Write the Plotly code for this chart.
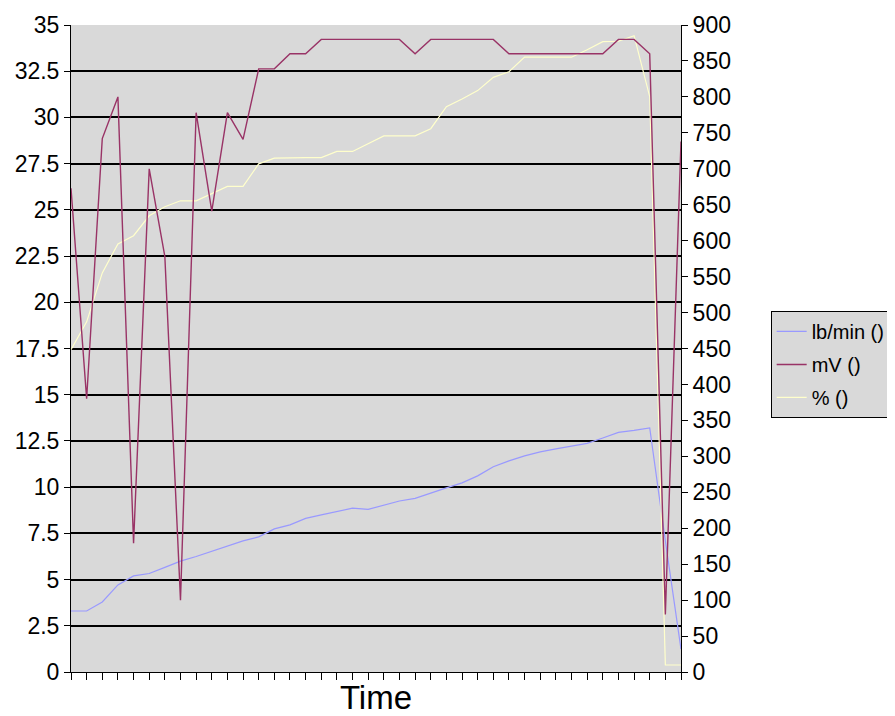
import plotly.graph_objects as go

# Category index (Time) – no tick labels shown on the chart
time_idx = list(range(40))

lb_min = [3.30, 3.30, 3.79, 4.71, 5.20, 5.33, 5.66, 6.00, 6.25, 6.52,
          6.79, 7.09, 7.31, 7.74, 7.96, 8.31, 8.50, 8.68, 8.86, 8.80,
          9.04, 9.25, 9.39, 9.69, 9.96, 10.23, 10.61, 11.10, 11.42, 11.69,
          11.91, 12.07, 12.20, 12.37, 12.66, 12.96, 13.07, 13.20, 7.09, 1.24]

mv = [673, 380, 742, 800, 179, 700, 578, 100, 778, 641,
      778, 741, 839, 839, 860, 860, 880, 880, 880, 880,
      880, 880, 860, 880, 880, 880, 880, 880, 860, 860,
      860, 860, 860, 860, 860, 880, 880, 860, 80, 738]

pct = [17.43, 18.94, 21.59, 23.16, 23.60, 24.68, 25.17, 25.49, 25.49, 25.87,
       26.27, 26.27, 27.49, 27.80, 27.83, 27.83, 27.83, 28.16, 28.16, 28.58,
       29.00, 29.00, 29.00, 29.39, 30.58, 31.00, 31.45, 32.17, 32.47, 33.26,
       33.26, 33.26, 33.26, 33.66, 34.10, 34.12, 34.42, 31.12, 0.38, 0.38]

left_ticks = [i * 2.5 for i in range(15)]
left_labels = ["0", "2.5", "5", "7.5", "10", "12.5", "15", "17.5", "20",
               "22.5", "25", "27.5", "30", "32.5", "35"]
right_ticks = list(range(0, 901, 50))

FONT = "Arial, Liberation Sans, sans-serif"

fig = go.Figure()
fig.add_trace(go.Scatter(x=time_idx, y=lb_min, name="lb/min ()", mode="lines",
                         line=dict(color="#9999FF", width=1.2), yaxis="y",
                         legendgroup="a", legendrank=1))
fig.add_trace(go.Scatter(x=time_idx, y=pct, name="% ()", mode="lines",
                         line=dict(color="#FFFFCC", width=1.2), yaxis="y",
                         legendgroup="c", legendrank=3))
fig.add_trace(go.Scatter(x=time_idx, y=mv, name="mV ()", mode="lines",
                         line=dict(color="#993366", width=1.4), yaxis="y2",
                         legendgroup="b", legendrank=2))

fig.update_layout(
    width=895, height=716,
    margin=dict(l=63, r=219, t=17, b=52),
    paper_bgcolor="white",
    plot_bgcolor="#D9D9D9",
    font=dict(family=FONT, color="black"),
    showlegend=True,
    legend=dict(x=1.147, y=0.558, xanchor="left", yanchor="top",
                bgcolor="#D9D9D9", bordercolor="black", borderwidth=1,
                font=dict(size=20, family=FONT), tracegroupgap=4,
                itemwidth=30),
    xaxis=dict(range=[0, 39], tickvals=time_idx, showticklabels=False,
               ticks="outside", ticklen=7, tickcolor="black", tickwidth=1,
               showgrid=False, zeroline=False, showline=True,
               linecolor="black", linewidth=1, automargin=False,
               title=dict(text="Time", font=dict(size=33, family=FONT),
                          standoff=6)),
    yaxis=dict(range=[0, 35], tickvals=left_ticks, ticktext=left_labels,
               ticks="outside", ticklen=6, tickcolor="black",
               showgrid=True, gridcolor="black", gridwidth=1.5,
               zeroline=False, showline=True, linecolor="black", linewidth=1,
               automargin=False, tickfont=dict(size=23, family=FONT)),
    yaxis2=dict(range=[0, 900], tickvals=right_ticks, overlaying="y",
                side="right", ticks="outside", ticklen=6, tickcolor="black",
                showgrid=False, zeroline=False, showline=True,
                linecolor="black", linewidth=1, automargin=False,
                tickfont=dict(size=23, family=FONT)),
)

fig.write_html("out.html")
